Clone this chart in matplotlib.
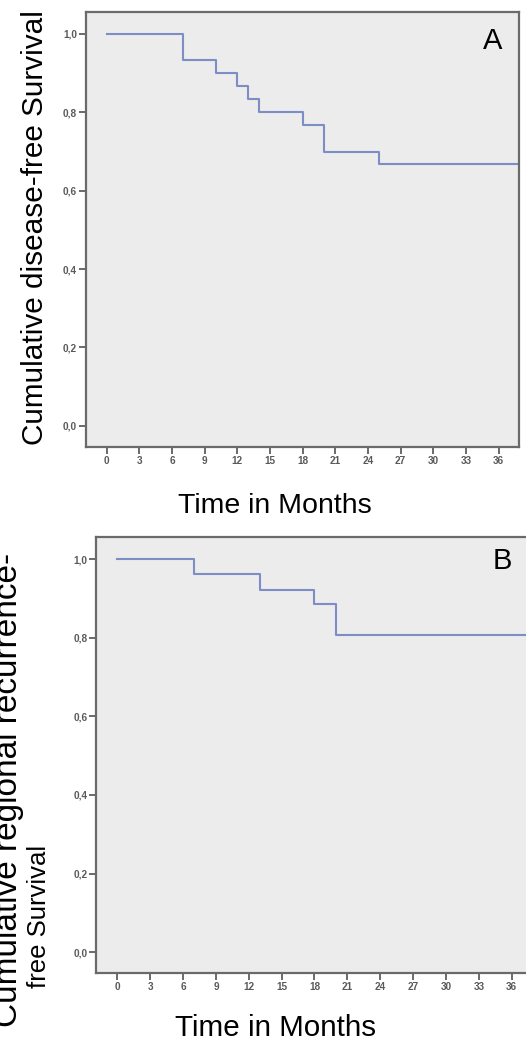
import matplotlib
matplotlib.use("Agg")
import matplotlib.pyplot as plt

# ---- data ----
time_ticks = [0, 3, 6, 9, 12, 15, 18, 21, 24, 27, 30, 33, 36]
y_ticks = [0.0, 0.2, 0.4, 0.6, 0.8, 1.0]
y_tick_labels = ["0,0", "0,2", "0,4", "0,6", "0,8", "1,0"]

months_A = [0, 7, 10, 12, 13, 14, 18, 20, 25, 40]
surv_A = [1.0, 0.933, 0.900, 0.867, 0.833, 0.800, 0.767, 0.700, 0.667, 0.667]

months_B = [0, 7, 13, 18, 20, 40]
surv_B = [1.0, 0.962, 0.923, 0.885, 0.808, 0.808]

ylabel_A = "Cumulative disease-free Survival"
ylabel_B1 = "Cumulative regional recurrence-"
ylabel_B2 = "free Survival"
xlabel = "Time in Months"

# ---- style ----
plt.rcParams['font.family'] = ['Liberation Sans', 'DejaVu Sans']
W, H = 526, 1043
fig = plt.figure(figsize=(W / 100, H / 100), dpi=100)
fig.patch.set_facecolor("white")

bg = "#ececec"
spine_c = "#6a6a6a"
line_c = "#7d8ec6"
tick_c = "#5a5a5a"

def px_rect(left, top, right, bottom):
    return [left / W, 1 - bottom / H, (right - left) / W, (bottom - top) / H]

def style(ax):
    ax.set_facecolor(bg)
    ax.set_xlim(-1.9, 37.86)
    ax.set_ylim(-0.054, 1.056)
    ax.set_xticks(time_ticks)
    ax.set_xticklabels([str(t) for t in time_ticks])
    ax.set_yticks(y_ticks)
    ax.set_yticklabels(y_tick_labels)
    for s in ax.spines.values():
        s.set_color(spine_c)
        s.set_linewidth(1.6)
    ax.tick_params(direction="out", length=5, width=1.4, color=spine_c,
                   labelsize=7.2, labelcolor=tick_c, pad=1.5)
    for lab in ax.get_xticklabels() + ax.get_yticklabels():
        lab.set_fontweight("bold")

axA = fig.add_axes(px_rect(86, 12, 519, 447))
style(axA)
axA.step(months_A, surv_A, where="post", color=line_c, lw=1.5)
axA.text(493 / W, 1 - 41 / H, "A", transform=fig.transFigure,
         ha="center", va="center", fontsize=21, color="black")

axB = fig.add_axes(px_rect(96.5, 537.3, 532, 973.3))
style(axB)
axB.step(months_B, surv_B, where="post", color=line_c, lw=1.5)
axB.text(502 / W, 1 - 561 / H, "B", transform=fig.transFigure,
         ha="center", va="center", fontsize=21, color="black")

# axis labels
fig.text(35 / W, 1 - 228 / H, ylabel_A, rotation=90, ha="center", va="center",
         fontsize=21.4, color="black")
fig.text(275 / W, 1 - 506 / H, xlabel, ha="center", va="center",
         fontsize=20.5, color="black")
fig.text(276 / W, 1 - 1028 / H, xlabel, ha="center", va="center",
         fontsize=21.3, color="black")
fig.text(9 / W, 1 - 790 / H, ylabel_B1, rotation=90, ha="center", va="center",
         fontsize=24, color="black")
fig.text(39 / W, 1 - 916 / H, ylabel_B2, rotation=90, ha="center", va="center",
         fontsize=18.5, color="black")

fig.savefig("out.png", dpi=100, facecolor="white")
